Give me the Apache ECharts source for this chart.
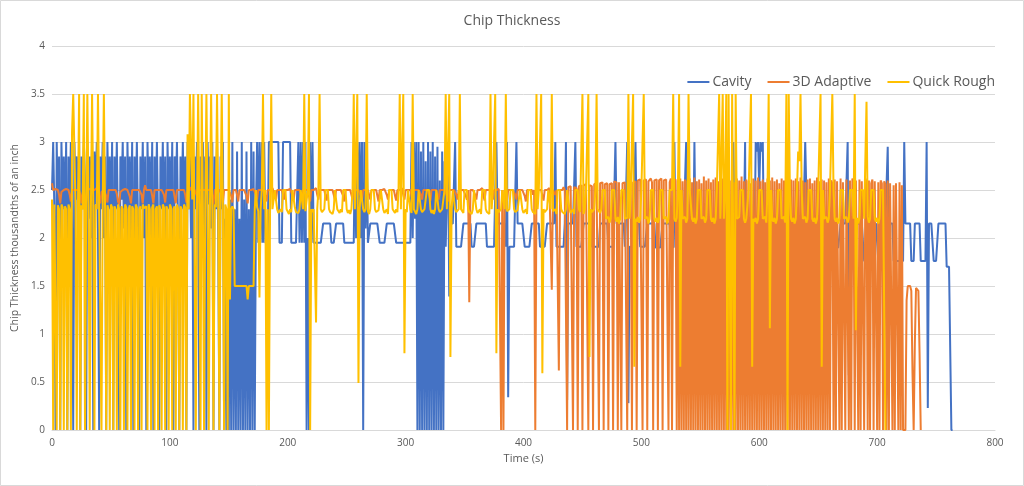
<!DOCTYPE html>
<html>
<head>
<meta charset="utf-8">
<script src="https://cdn.jsdelivr.net/npm/echarts@6/dist/echarts.min.js"></script>
<style>
html,body{margin:0;padding:0;background:#fff;}
#chart{width:1024px;height:486px;}
</style>
</head>
<body>
<div id="chart"></div>
<script>
// Time axis: one sample per second, starting at 0 s
const timeStart = 0;
const timeStep = 1;
const xTicks = [0,100,200,300,400,500,600,700,800];
const yTicks = [0,0.5,1,1.5,2,2.5,3,3.5,4];
const seriesNames = ['Cavity','3D Adaptive','Quick Rough'];

const cavity = [
2.5,3,2.3,0,3,2.2,2.85,0,3,2.3,
2.85,2,3,0,2.85,2.3,3,2.1,0,3,
2.4,2.85,2,3,0,2.85,2.3,3,2.6,0,
3,2.2,2.85,2,3,0,2.9,2.35,3,2.1,
0,2.85,2.3,3,2,2.85,0,3,2.3,2.85,
2.1,3,0,2.85,2.3,3,2,0,2.85,2.4,
3,2.1,2.85,0,3,2.3,2.85,2,3,0,
2.85,2.3,3,2.1,0,2.85,2.3,3,2,2.85,
0,3,2.35,2.85,2,3,0,2.85,2.3,3,
2.1,0,2.85,2.3,3,2,2.85,0,3,2.3,
2.85,2.1,3,0,2.85,2.4,3,2,0,2.85,
2.3,3,2.1,2.85,0,3,2.3,2.85,2,3,
0,2.85,2.3,3,2.1,0,2.85,2.3,3,2,
2.85,0,3,2.35,2.85,2.1,3,0,2.85,2.3,
3,2,0,2.85,2.3,3,0,2.2,0,2.1,
0,2.4,0,3,0,2.3,0,2.9,0,2.2,
0,3,0,2.4,0,2.9,0,2.3,0,3,
0,2.9,0,2.3,3,1.95,3,1.95,3,1.95,
3,1.95,1.95,1.95,3,3,3,3,3,3,
3,3,3,1.95,1.95,1.95,3,3,3,3,
3,3,3,1.95,1.95,1.95,1.95,1.95,1.95,3,
1.95,3,1.95,3,1.95,3,0,2,0,3,
1.95,3,1.95,1.95,1.95,1.95,1.95,1.95,1.95,1.95,
2.15,2.15,2.15,2.15,2.15,2.15,2.15,1.95,1.95,1.95,
1.95,2.15,2.15,2.15,2.15,2.15,2.15,2.15,1.95,1.95,
1.95,1.95,1.95,1.95,1.95,1.95,1.95,3,2,3,
2.2,3,2,3,0,3,2.1,3,1.95,1.95,
2.15,2.15,2.15,2.15,2.15,2.15,2.15,2.15,1.95,1.95,
1.95,1.95,1.95,1.95,2.15,2.15,2.15,2.15,2.15,2.15,
2.15,2.15,1.95,1.95,1.95,1.95,1.95,1.95,1.95,1.95,
1.95,1.95,1.95,1.95,1.95,3,2,3,2.2,3,
0,3,0,2.9,0,3,0,2.8,0,3,
0,2.9,0,3,0,2.85,0,2.95,0,2.6,
0,2.9,0,2.8,1.91,1.91,3,1.39,2.15,2.15,
2.15,2.15,3,1.91,1.91,1.91,1.91,1.91,1.91,2.15,
2.15,2.15,2.15,2.15,2.15,2.15,1.91,1.91,1.91,1.91,
2.15,2.15,2.15,2.15,2.15,2.15,2.15,2.15,2.15,1.91,
1.91,1.91,1.91,1.91,1.91,1.91,1.91,3,2.15,2.15,
2.15,2.15,2.15,2.15,2.15,1.91,3,0.34,1.91,1.91,
1.91,1.91,1.91,1.91,3,2.15,2.15,2.15,2.15,2.15,
2.15,1.91,1.91,1.91,1.91,1.91,1.91,2.15,2.15,2.15,
2.15,2.15,2.15,2.15,1.91,1.91,1.91,1.91,1.91,1.91,
2.15,2.15,2.15,2.15,2.15,2.15,2.15,3,1.91,1.91,
1.91,1.91,1.91,1.91,1.91,2.15,3,0.31,2.15,2.15,
2.15,2.15,2.15,2.15,3,1.91,1.91,1.91,1.91,1.91,
1.91,2.15,2.15,2.15,2.15,2.15,2.15,2.15,1.91,1.91,
1.91,1.91,1.91,1.91,1.91,2.15,2.15,2.15,2.15,2.15,
2.15,2.15,1.91,1.91,1.91,1.91,1.91,1.91,3,2.15,
2.15,2.15,2.15,2.15,2.15,2.15,1.91,1.91,3,0.28,
1.91,1.91,1.91,2.15,2.15,3,2.15,2.15,2.15,1.91,
1.91,1.91,1.91,1.91,1.91,2.15,2.15,2.15,2.15,2.15,
2.15,2.15,1.9,1.9,1.9,1.9,1.9,1.9,2.15,2.15,
2.15,2.15,2.15,2.15,2.15,1.9,1.9,1.9,3,1.9,
1.9,1.9,2.15,2.15,2.15,2.15,2.15,2.15,3,2.15,
1.9,1.9,1.9,1.9,1.9,3,1.9,2.15,2.15,2.15,
2.15,2.15,2.15,2.15,1.9,1.9,1.9,1.9,1.9,1.9,
2.15,2.15,2.15,2.15,2.15,2.15,2.15,1.9,1.9,1.9,
1.9,1.9,1.9,1.9,2.15,2.15,2.15,2.15,3,2.15,
2.15,1.9,1.9,1.9,1.9,1.9,1.9,2.15,3,0.35,
2.15,2.15,2.15,2.15,1.9,1.9,1.9,3,2.9,3,
2.5,3,2.9,3,1.9,1.9,2.15,2.15,2.15,2.15,
2.15,2.15,1.9,1.9,1.9,1.9,1.9,1.9,2.15,2.15,
2.15,2.15,2.15,2.15,2.15,1.9,1.9,1.9,1.9,1.9,
1.9,2.15,2.15,2.15,2.15,2.15,2.15,1.9,1.9,3,
3,1.9,1.9,1.9,2.15,2.15,2.15,2.15,2.15,2.15,
1.9,1.9,1.9,1.9,1.9,1.9,2.15,2.15,2.15,2.15,
2.15,2.15,2.15,1.9,1.9,1.9,1.9,1.9,1.9,2.15,
2.15,2.15,2.15,2.15,2.15,3,0.57,1.9,1.9,1.9,
1.9,1.9,1.9,2.15,2.15,2.15,2.15,2.15,2.15,1.76,
1.76,1.76,1.76,1.76,1.76,2.15,2.15,2.15,2.15,2.15,
2.15,1.76,1.76,1.76,1.76,1.76,1.76,2.15,2.15,2.95,
1.76,2.15,2.15,2.15,1.76,1.76,1.76,1.76,1.76,1.76,
1.76,1.76,1.76,3,2.15,2.15,2.15,2.15,2.15,1.76,
1.76,1.76,2.15,2.15,2.15,2.15,2.15,1.76,1.76,1.76,
1.76,1.76,3,0.23,2.15,2.15,2.15,2.15,1.76,1.76,
1.76,1.76,2.15,2.15,2.15,2.15,2.15,2.15,2.15,1.7,
1.7,1.7,1.7,0,0
];

const adaptive3D = [
2.57,2.5,2.5,2.51,2.5,2.5,2.45,2.36,2.48,2.5,
2.5,2.5,2.51,2.5,2.5,2.45,2.38,2.5,2.5,2.5,
2.51,2.5,2.5,2.5,2.45,2.36,2.47,2.5,2.42,2.38,
2.5,2.5,2.51,2.5,2.5,2.5,2.5,2.5,2.52,2.5,
2.42,2.36,2.48,2.5,2.5,2.5,2.44,2.37,2.5,2.5,
2.5,2.51,2.5,2.5,2.5,2.46,2.38,2.35,2.48,2.5,
2.5,2.5,2.51,2.5,2.5,2.5,2.43,2.36,2.5,2.5,
2.5,2.5,2.5,2.52,2.5,2.5,2.45,2.36,2.5,2.55,
2.5,2.5,2.5,2.5,2.5,2.44,2.36,2.5,2.5,2.5,
2.51,2.5,2.5,2.5,2.5,2.45,2.37,2.5,2.5,2.5,
2.5,2.5,2.5,2.5,2.43,2.36,2.5,2.5,2.5,2.51,
2.5,2.5,2.5,2.45,2.37,2.5,2.5,2.5,2.53,2.5,
2.5,2.5,2.5,2.44,2.36,2.5,2.5,2.5,2.5,2.5,
2.51,2.5,2.5,2.5,2.5,2.5,2.44,2.35,2.5,2.5,
2.5,2.5,2.5,2.5,2.45,2.37,2.5,2.5,2.5,2.5,
2.5,2.5,2.44,2.37,2.5,2.5,2.5,2.45,2.38,2.5,
2.5,2.5,2.5,2.5,2.5,2.44,2.36,2.5,2.5,2.5,
2.5,2.51,2.5,2.45,2.4,2.5,2.5,2.5,2.5,2.5,
2.5,2.44,2.38,2.5,2.5,2.5,2.5,2.52,2.5,2.44,
2.39,2.5,2.5,2.5,2.5,2.5,2.45,2.4,2.5,2.5,
2.5,2.5,2.51,2.5,2.44,2.39,2.5,2.5,2.5,2.5,
2.5,2.46,2.4,2.5,2.5,2.5,2.5,2.5,2.44,2.38,
2.5,2.5,2.5,2.5,2.52,2.45,2.4,2.5,2.5,2.5,
2.5,2.5,2.44,2.39,2.5,2.5,2.5,2.5,2.5,2.45,
2.4,2.5,2.5,2.5,2.51,2.5,2.5,2.44,2.38,2.5,
2.5,2.5,2.5,2.5,2.45,2.4,2.5,2.5,2.5,2.5,
2.5,2.52,2.44,2.39,2.5,2.5,2.5,2.5,2.5,2.45,
2.4,2.5,2.5,2.5,2.5,2.5,2.44,2.38,2.5,2.5,
2.5,2.5,2.51,2.5,2.45,2.4,2.5,2.5,2.5,2.5,
2.5,2.44,2.39,2.5,2.5,2.5,2.5,2.52,2.45,2.4,
2.5,2.5,2.5,2.5,2.5,2.44,2.38,2.5,2.5,2.5,
2.5,2.5,2.51,2.45,2.4,2.5,2.5,2.5,2.5,2.5,
2.44,2.39,2.5,2.5,2.5,2.5,2.5,2.45,2.4,2.5,
2.5,2.5,2.52,2.5,2.5,2.44,2.38,2.5,2.5,2.5,
2.5,2.5,2.5,2.45,2.4,2.5,2.5,2.5,2.51,2.5,
2.5,2.44,2.4,2.5,1.33,2.5,2.5,2.5,2.5,2.45,
2.4,2.5,2.5,2.5,2.5,2.52,2.44,2.39,2.5,2.5,
2.5,2.5,2.5,2.45,2.4,2.5,2.5,2.5,2.5,2.51,
2.5,0,2.5,0,2.5,2.44,2.39,2.5,2.5,2.5,
2.5,2.5,2.5,2.45,2.4,2.5,2.5,2.5,2.52,2.5,
2.5,2.44,2.38,2.5,2.5,2.5,2.5,2.5,2.45,2.5,
0,2.5,2.5,2.5,2.51,2.5,2.44,2.39,2.5,2.5,
2.5,2.5,2.52,2.5,1.46,2.5,2.5,2.45,2.5,2.5,
0.62,2.5,2.52,2.5,2.53,2.5,2.52,0,2.53,2.51,
2.54,2.52,0,2.53,2.55,2.52,0,2.54,2.53,2.55,
0,2.55,2.53,2.56,2.54,0,2.55,2.57,2.54,0,
2.56,2.55,2.57,2.55,0,2.57,2.56,2.58,0,2.56,
2.58,2.57,0,2.56,2.58,2.57,0,2.59,2.57,2.58,
0,2.58,2.6,0,2.57,2.59,2.58,2.6,0,2.58,
2.6,2.59,0,2.58,2.6,2.59,0,2.6,2.58,2.61,
2.59,0,2.6,2.58,2.61,0,2.59,2.6,2.62,2.58,
0,2.6,2.59,2.61,0,2.6,2.58,2.62,0,2.6,
2.59,2.61,2.6,0,2.58,2.62,0,2.6,2.59,2.61,
0,2.6,0,2.62,0,2.59,0,2.61,0,2.6,
0,2.62,0,2.58,0,2.63,0,2.59,0,2.61,
0,2.57,0,2.64,0,2.6,0,2.62,0,2.58,
0,2.61,0,2.63,0,2.59,0,2.6,0,2.62,
0,2.57,0,2.63,0,2.6,0,2.61,0,2.58,
0,2.62,0,2.6,0,2.64,0,2.59,0,2.61,
0,2.6,0,2.57,0,2.62,0,2.6,0,2.63,
0,2.59,0,2.61,0,2.58,0,2.62,0,2.6,
0,2.63,0,2.59,0,2.61,0,2.57,0,2.62,
0,2.6,0,2.64,0,2.58,0,2.61,0,2.6,
0,2.62,0,2.59,0,2.63,0,2.6,0,2.58,
0,2.61,0,2.62,0,2.57,0,2.6,0,2.63,
0,2.59,0,2.61,0,2.6,0,2.58,0,2.62,
0,2.6,2.57,0,2.61,0,2.59,2.6,0,2.62,
0,2.58,2.6,0,2.61,2.59,0,2.6,0,2.62,
2.57,0,2.6,2.58,0,2.61,0,2.59,2.6,0,
2.62,2.58,0,2.6,0,2.57,2.61,0,2.59,2.6,
0,2.58,0,2.6,2.57,0,2.59,2.56,0,2.6,
0,2.57,2.58,0,2.55,0,2.57,2.56,0,2.58,
0,2.55,0,0,0,1.35,1.5,1.5,1.5,1.45,
0.6,0,0.9,1.48,1.5,1.45,0.8,0
];

const quickRough = [
2.4,0,2.35,2.33,0,2.34,2.3,0,2.35,2.32,
0,2.33,2.3,0,2.35,2.3,0,3.1,3.5,3.5,
2.3,0,2.3,3.5,0,2.34,2.3,3.5,0,2.35,
3.5,2.32,0,2.3,3.5,2.33,0,2.35,2.3,3.5,
2.33,2.35,0,2.3,3.5,2.32,0,2.34,2.3,0,
2.35,2.32,0,2.33,2.3,0,2.35,2.3,0,2.33,
2.3,0,2.35,2.32,0,2.3,2.34,0,2.33,2.3,
0,2.35,2.32,0,2.3,2.33,0,2.35,2.31,2.3,
2.33,0,2.35,2.3,0,2.32,2.35,0,2.3,2.33,
0,2.34,2.3,0,2.35,2.32,0,2.33,2.3,0,
2.35,2.32,0,2.3,2.33,0,2.35,2.3,0,2.33,
2.3,0,2.35,2.32,0,3.08,2.3,3.5,3.5,2.4,
3.5,3.5,0,2.33,3.5,2.3,0,3.5,2.32,0,
2.34,3.5,2.3,0,2.33,3.5,2.3,0,2.35,2.32,
3.5,2.3,0,2.33,3.5,2.3,0,2.35,2.3,0,
3.5,1.36,2.3,2.33,2.3,1.5,1.5,1.5,1.5,1.5,
1.5,1.5,1.5,1.5,1.5,1.5,1.36,1.5,1.5,1.5,
1.5,1.5,2.3,2.5,2.32,2.28,1.38,2.3,2.5,3.5,
2.3,2.5,0,2.3,0,2.32,3.5,2.3,2.28,2.5,
2.5,2.3,2.26,2.28,2.3,2.27,2.5,2.5,2.5,2.3,
2.28,2.25,2.3,2.27,2.5,2.5,2.32,2.27,2.29,2.26,
2.3,2.5,2.5,2.3,3.5,2.28,2.3,2.5,3.5,0,
2.3,2.27,2.3,2.28,1.12,2.3,2.5,3.5,2.3,2.27,
2.25,2.3,2.5,2.5,2.5,2.3,2.27,2.29,2.25,2.3,
2.5,2.5,2.3,2.28,2.26,2.3,2.27,2.5,2.5,2.5,
2.3,2.26,2.29,2.25,2.3,2.5,3.5,2.3,2.28,3.5,
0.49,2.3,2.5,2.5,2.3,2.27,2.3,3.5,2.28,2.25,
2.3,2.5,2.5,2.5,2.3,2.27,2.25,2.29,2.3,2.5,
2.5,2.3,2.26,2.28,2.3,2.25,2.5,2.5,2.5,2.3,
2.28,2.26,2.3,2.27,2.5,3.5,2.3,2.28,3.5,0.8,
2.3,2.27,2.5,2.5,2.3,2.26,3.5,2.3,2.28,2.25,
2.3,2.5,2.5,2.3,2.27,2.25,2.3,2.28,2.5,2.5,
2.5,2.3,2.26,2.29,2.25,2.3,2.5,2.5,2.3,2.27,
2.25,2.3,2.28,2.5,3.5,2.3,2.28,3.5,0.76,2.3,
2.5,2.5,2.3,2.27,2.25,2.3,3.5,2.3,2.28,2.26,
2.5,2.5,2.5,2.3,2.27,2.29,2.25,2.3,2.5,2.5,
2.3,2.26,2.28,2.3,2.25,2.5,2.5,2.5,2.3,2.27,
2.29,2.25,3.5,2.3,2.5,2.5,3.5,0.8,2.3,2.27,
2.25,2.3,2.5,2.5,2.3,3.5,2.28,2.26,2.3,2.5,
2.5,2.5,2.3,2.27,2.25,2.29,2.3,2.5,2.5,2.3,
2.26,2.28,2.3,2.25,2.5,2.5,2.5,2.3,2.27,2.29,
2.25,3.5,2.3,2.5,2.5,3.5,0.59,2.3,2.27,2.25,
2.3,2.5,2.5,2.3,3.5,2.28,2.26,2.3,2.25,2.5,
2.5,2.5,2.3,2.27,2.29,2.25,2.3,2.5,2.5,2.3,
2.26,2.28,2.3,2.25,2.5,2.5,2.5,2.3,2.27,2.29,
3.5,2.25,2.3,2.5,2.5,3.5,0.76,2.3,2.27,2.25,
2.3,2.5,3.5,2.3,2.28,2.26,2.3,2.5,2.5,2.5,
2.2,2.18,2.22,2.16,2.2,2.5,2.5,2.5,2.2,2.17,
2.22,2.15,2.2,2.5,2.5,2.5,2.2,2.18,2.21,3.5,
2.2,2.5,2.5,3.5,0.66,2.2,2.17,2.22,2.16,2.2,
2.5,2.5,3.5,2.2,2.18,2.22,2.15,2.2,2.5,2.5,
2.5,2.2,2.17,2.21,2.16,2.2,2.5,2.5,2.5,2.2,
2.18,2.22,2.15,2.2,2.5,2.5,2.5,3.5,2.2,2.17,
2.21,2.5,3.5,0.66,2.5,2.2,2.18,2.22,2.16,2.2,
3.5,2.5,2.5,2.2,2.17,2.21,2.15,2.2,2.5,2.5,
2.5,2.2,2.18,2.22,2.16,2.2,2.5,2.5,2.5,2.2,
2.17,2.21,2.15,2.2,2.5,2.5,3.5,2.2,2.18,3.5,
2.2,2.5,3.5,0,3.5,3.5,0,3.5,3.5,0,
3.5,2.2,2.18,2.22,2.5,2.5,2.5,2.2,2.16,2.2,
2.18,2.5,2.5,3.5,0.66,2.2,2.17,2.21,2.15,2.2,
2.5,2.5,2.5,2.2,2.18,2.22,2.16,2.5,3.5,1.06,
2.5,2.2,2.17,2.21,2.15,2.2,2.5,2.5,2.5,2.2,
2.18,2.22,2.16,3.5,0,3.5,2.5,2.2,2.17,2.21,
2.15,2.2,2.5,2.9,2.8,3.5,2.5,2.2,2.18,2.22,
2.16,2.2,2.5,2.5,2.5,2.2,2.17,2.21,2.15,2.2,
2.5,2.5,3.5,0.66,2.5,2.2,2.18,2.22,2.16,2.2,
2.5,2.5,3.5,2.5,2.2,2.17,2.21,2.15,2.2,2.5,
2.5,2.5,2.2,2.18,2.22,2.16,2.2,2.5,2.5,2.5,
2.2,3.5,1.04,2.21,2.15,2.2,2.5,2.5,2.5,2.2,
2.18,3.42,2.22,2.16,2.2,2.5,2.5,2.5,2.2,2.17,
2.21,2.15,2.2,2.5,2.5,2.5,2.5,0
];

const colors = ['#4472C4','#ED7D31','#FFC000'];
const toPairs = vals => vals.map((v, i) => [timeStart + i * timeStep, v]);

const chart = echarts.init(document.getElementById('chart'), null, {renderer:'canvas'});
const baseFont = "'Open Sans', 'Noto Sans', sans-serif";
chart.setOption({
  animation: false,
  backgroundColor: '#ffffff',
  textStyle: {fontFamily: baseFont},
  title: {
    text: 'Chip Thickness', left: 'center', top: 9,
    textStyle: {fontSize: 14, fontWeight: 'normal', color: '#595959', fontFamily: baseFont}
  },
  legend: {
    data: seriesNames, right: 24, top: 70, icon: 'rect', itemWidth: 22, itemHeight: 2, itemGap: 16,
    textStyle: {fontSize: 14, color: '#595959', fontFamily: baseFont, padding: [0,0,0,-2]}
  },
  grid: {left: 52, right: 29, top: 46, bottom: 56},
  xAxis: {
    type: 'value', min: xTicks[0], max: xTicks[xTicks.length-1], interval: xTicks[1]-xTicks[0],
    name: 'Time (s)', nameLocation: 'middle', nameGap: 22,
    nameTextStyle: {fontSize: 11, color: '#595959'},
    axisLine: {show: true, lineStyle: {color: '#D9D9D9', width: 1}},
    axisTick: {show: false},
    axisLabel: {fontSize: 10, color: '#595959', margin: 8},
    splitLine: {show: false}
  },
  yAxis: {
    type: 'value', min: yTicks[0], max: yTicks[yTicks.length-1], interval: yTicks[1]-yTicks[0],
    name: 'Chip Thickness thousandths of an inch', nameLocation: 'middle', nameGap: 25,
    nameTextStyle: {fontSize: 10.5, color: '#595959'},
    axisLine: {show: false}, axisTick: {show: false},
    axisLabel: {fontSize: 10, color: '#595959', margin: 7},
    splitLine: {show: true, lineStyle: {color: '#D9D9D9', width: 1}}
  },
  graphic: [{
    type: 'rect', shape: {x: 0.5, y: 0.5, width: 1023, height: 485},
    style: {fill: 'none', stroke: '#D9D9D9', lineWidth: 1}, silent: true
  }],
  series: [cavity, adaptive3D, quickRough].map((vals, k) => ({
    name: seriesNames[k], type: 'line', data: toPairs(vals),
    symbol: 'none', showSymbol: false, sampling: null, smooth: false,
    lineStyle: {color: colors[k], width: 2}, itemStyle: {color: colors[k]},
    emphasis: {disabled: true}, silent: true, clip: true
  }))
});
</script>
</body>
</html>
